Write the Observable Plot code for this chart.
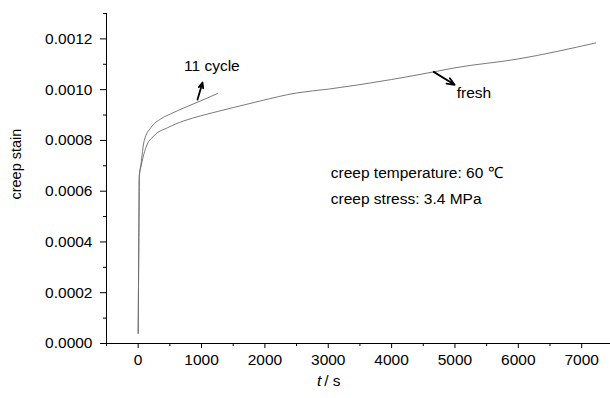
<!DOCTYPE html>
<html>
<head>
<meta charset="utf-8">
<script src="https://cdn.jsdelivr.net/npm/d3@7"></script>
<script src="https://cdn.jsdelivr.net/npm/@observablehq/plot@0.6"></script>
<style>
  html, body { margin: 0; padding: 0; background: #fff; }
</style>
</head>
<body>
<div id="chart"></div>
<script>
// Fresh specimen
const tFresh = [0, 10, 18, 43, 121, 248, 464, 721, 989, 1252, 1510, 1936, 2500, 3000, 4000, 4664, 5000, 6000, 7220];
const sFresh = [0.00004, 0.00040, 0.00066, 0.000695, 0.000771, 0.000818, 0.000850, 0.000877, 0.000897, 0.000914, 0.000930, 0.000956, 0.000987, 0.001002, 0.001040, 0.001070, 0.001086, 0.001121, 0.001184];
// After 11 cycles
const tCycle = [0, 10, 18, 43, 95, 200, 358, 516, 721, 989, 1252];
const sCycle = [0.00004, 0.00040, 0.00066, 0.000705, 0.000799, 0.000850, 0.000885, 0.000905, 0.000928, 0.000956, 0.000985];

const xTicks = [0, 1000, 2000, 3000, 4000, 5000, 6000, 7000];
const xMinor = [-500, 500, 1500, 2500, 3500, 4500, 5500, 6500];
const yTicks = [0, 0.0002, 0.0004, 0.0006, 0.0008, 0.0010, 0.0012];
const yMinor = [0.0001, 0.0003, 0.0005, 0.0007, 0.0009, 0.0011, 0.0013];

// annotations
const arrowLabels = ["11 cycle", "fresh"];
const arrowFromT = [937, 4664];
const arrowFromS = [0.000961, 0.001070];
const arrowToT = [1016, 4995];
const arrowToS = [0.001028, 0.001019];
const labelT = [723, 5027];
const labelS = [0.001094, 0.000987];

const noteLines = ["creep temperature: 60 \u2103", "creep stress: 3.4 MPa"];
const noteT = [3040, 3040];
const noteS = [0.000673, 0.000570];

const fresh = tFresh.map((t, i) => ({t, s: sFresh[i]}));
const cycle = tCycle.map((t, i) => ({t, s: sCycle[i]}));
const arrows = arrowLabels.map((name, i) => ({name, x1: arrowFromT[i], y1: arrowFromS[i], x2: arrowToT[i], y2: arrowToS[i], lx: labelT[i], ly: labelS[i]}));
const notes = noteLines.map((text, i) => ({text, x: noteT[i], y: noteS[i]}));

const font = "'Liberation Sans', Arial, sans-serif";
const fs = 15.5;

const chart = Plot.plot({
  width: 610,
  height: 398,
  marginLeft: 106,
  marginRight: 0,
  marginTop: 13,
  marginBottom: 55,
  style: {fontFamily: font, fontSize: fs + "px", color: "#000", background: "#fff"},
  x: {domain: [-500, 7455]},
  y: {domain: [0, 0.0013]},
  marks: [
    Plot.axisX({ticks: xTicks, tickSize: 5, tickPadding: 5, fontSize: fs, label: null, tickFormat: d => String(d)}),
    Plot.axisX({ticks: xMinor, tickSize: 3, label: null, tickFormat: () => ""}),
    Plot.axisY({ticks: yTicks, tickSize: 6, tickPadding: 8, fontSize: fs, label: null, tickFormat: d => d.toFixed(4)}),
    Plot.axisY({ticks: yMinor, tickSize: 3, label: null, tickFormat: () => ""}),
    Plot.ruleX([-500], {stroke: "#000", strokeWidth: 1}),
    Plot.ruleY([0], {stroke: "#000", strokeWidth: 1}),
    Plot.line(fresh, {x: "t", y: "s", stroke: "#6a6a6a", strokeWidth: 0.9, curve: "monotone-x"}),
    Plot.line(cycle, {x: "t", y: "s", stroke: "#6a6a6a", strokeWidth: 0.9, curve: "monotone-x"}),
    Plot.arrow(arrows, {x1: "x1", y1: "y1", x2: "x2", y2: "y2", stroke: "#000", strokeWidth: 1.8, headLength: 7, headAngle: 45}),
    Plot.text(arrows, {x: "lx", y: "ly", text: "name", textAnchor: "start", fontSize: fs, fill: "#000"}),
    Plot.text(notes, {x: "x", y: "y", text: "text", textAnchor: "start", fontSize: fs, fill: "#000"}),
    Plot.text(["t"], {x: () => 3000, frameAnchor: "bottom", dy: 42, dx: -7, textAnchor: "end", fontStyle: "italic", fontSize: fs, text: d => d}),
    Plot.text(["/ s"], {x: () => 3000, frameAnchor: "bottom", dy: 42, dx: -4, textAnchor: "start", fontSize: fs, text: d => d}),
    Plot.text(["creep stain"], {y: () => 0.000567, frameAnchor: "left", dx: -90, rotate: -90, fontSize: 14.5, text: d => d})
  ]
});
document.getElementById("chart").appendChild(chart);
</script>
</body>
</html>
